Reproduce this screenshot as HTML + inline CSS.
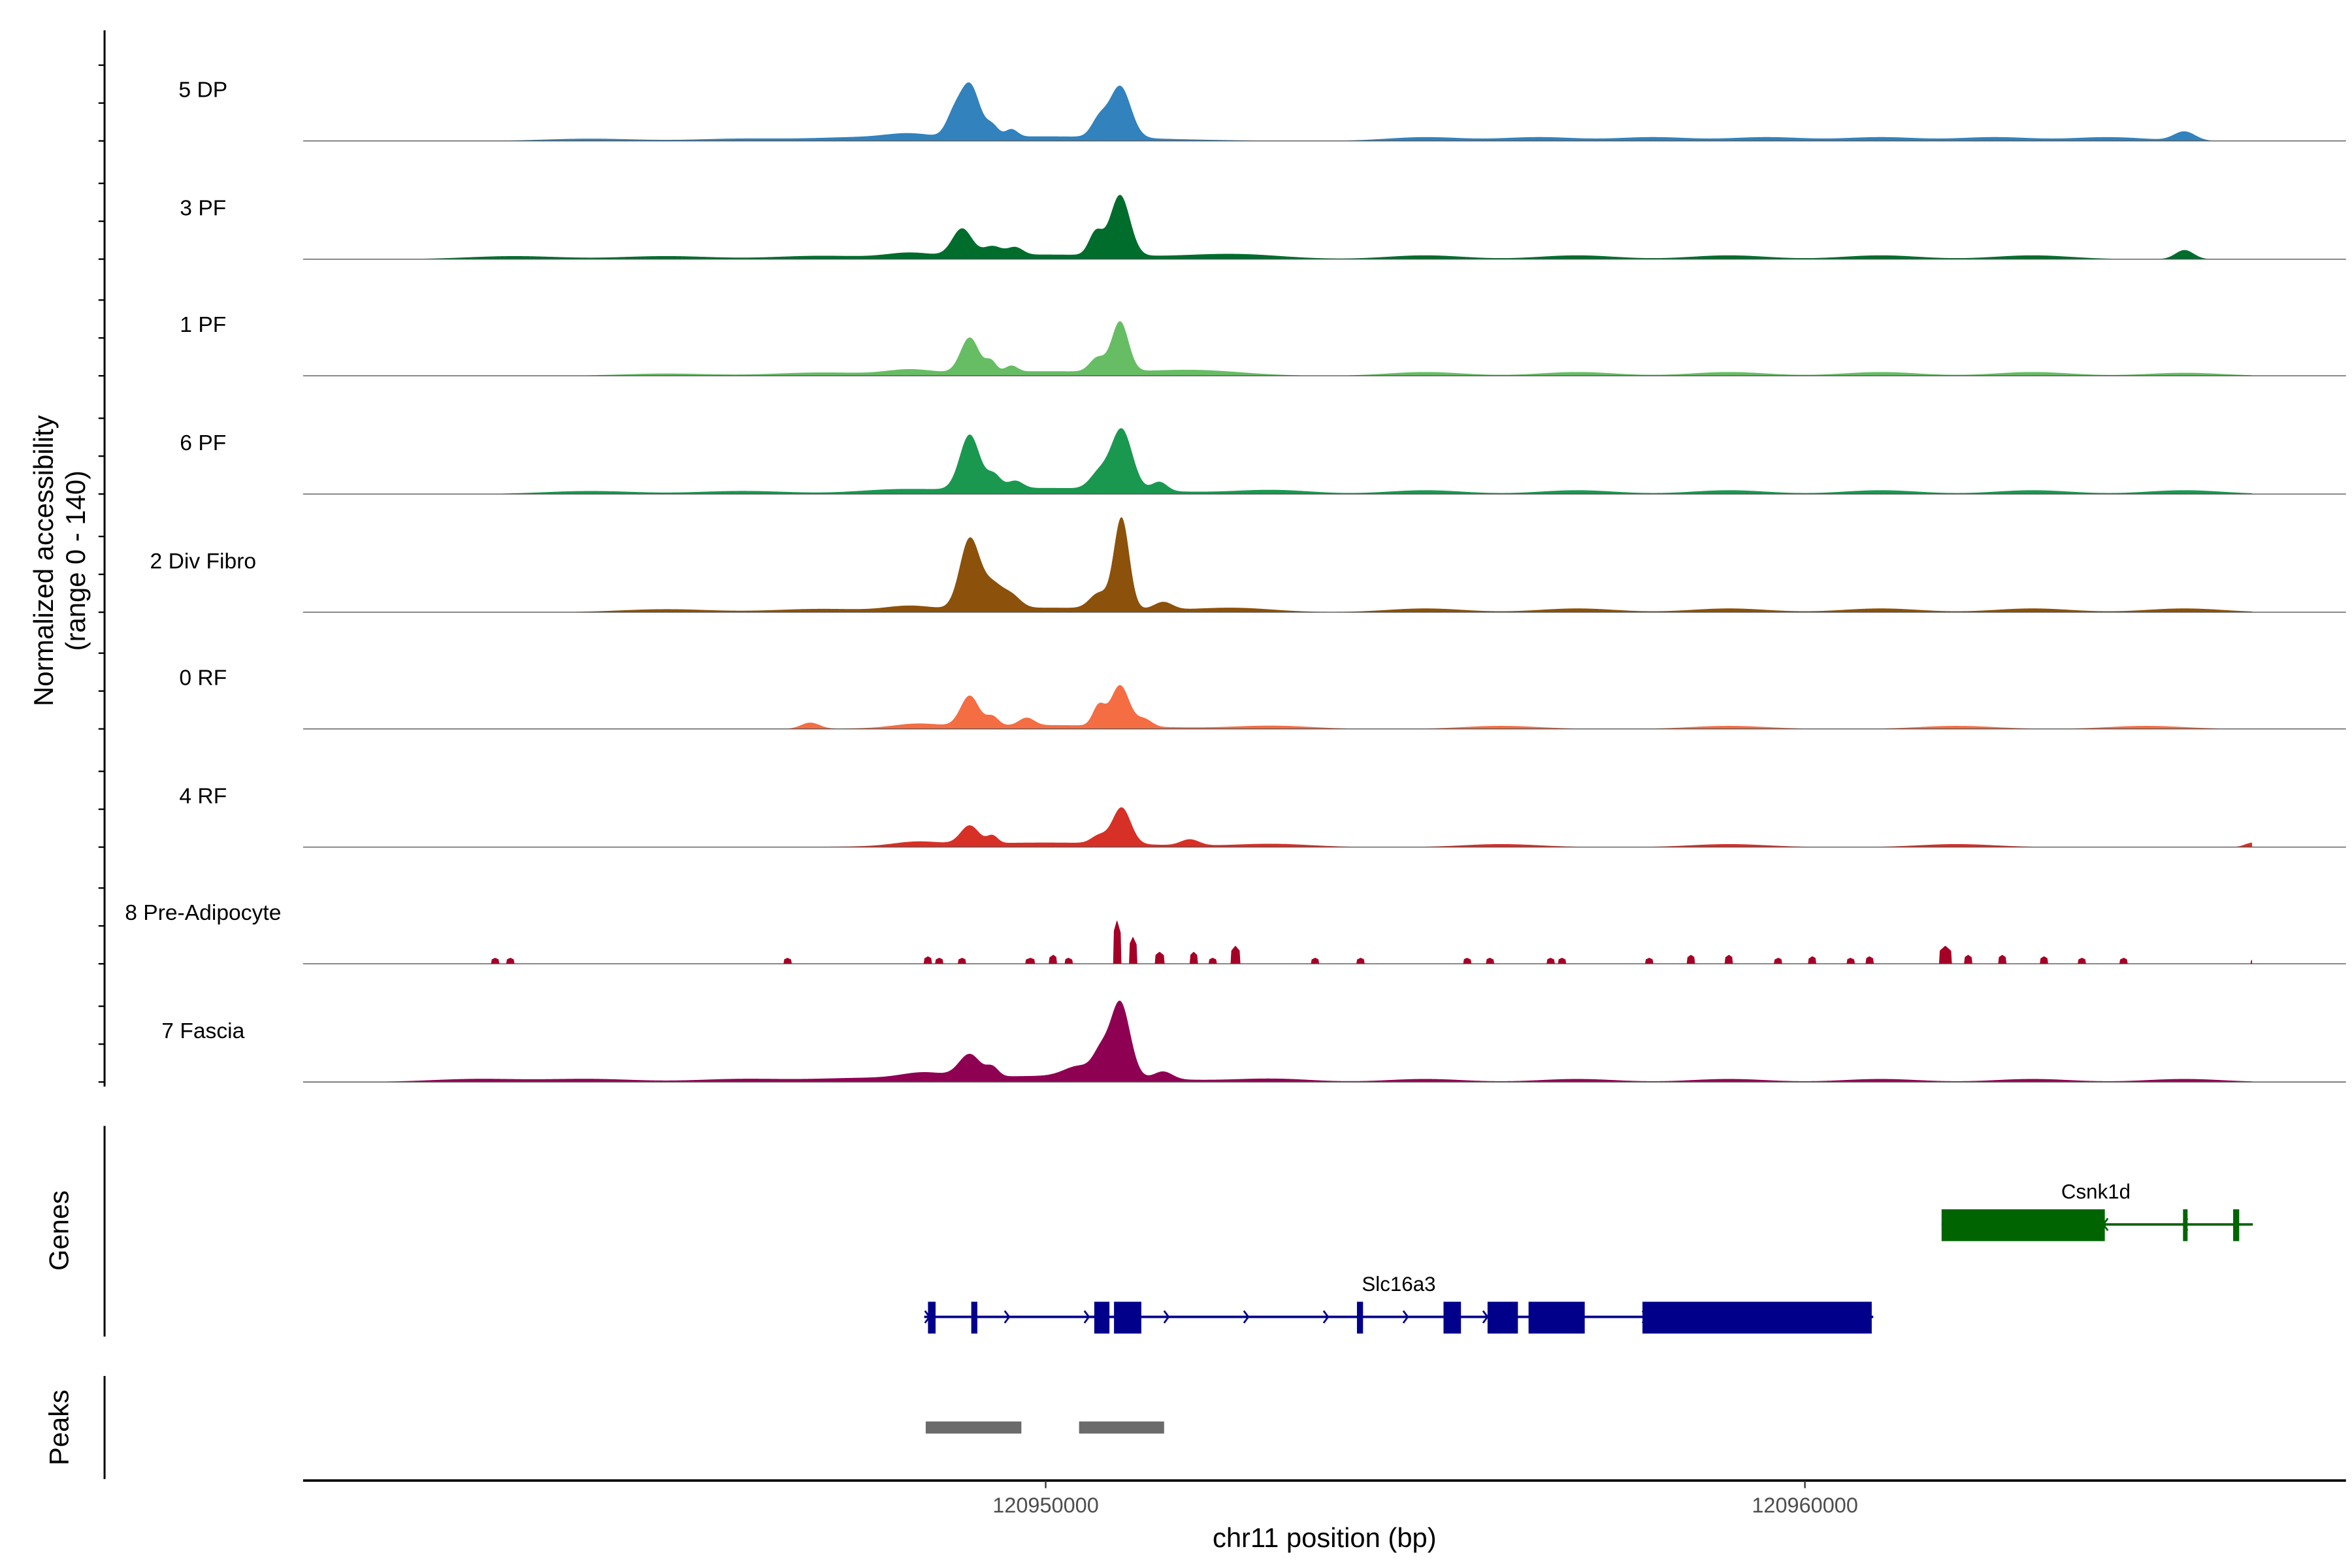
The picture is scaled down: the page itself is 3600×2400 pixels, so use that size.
<!DOCTYPE html>
<html><head><meta charset="utf-8">
<style>
html,body{margin:0;padding:0;background:#fff;}
svg{display:block;}
text{font-family:"Liberation Sans",sans-serif;}
</style></head>
<body>
<svg id="chart" width="3600" height="2400" viewBox="0 0 1552 1034.7" preserveAspectRatio="none" xmlns="http://www.w3.org/2000/svg">
<g id="tracks"></g>
<g id="axes"></g>
<g id="genes"></g>
<g id="peaks"></g>
</svg>
<script>
// positions in kb offset from 120,940,000 bp; heights in normalized accessibility (0-140)
const trackNames = ["5 DP","3 PF","1 PF","6 PF","2 Div Fibro","0 RF","4 RF","8 Pre-Adipocyte","7 Fascia"];
const trackColors = ["#3182bd","#006d2c","#66bd63","#1a9850","#8c510a","#f46d43","#d73027","#a50026","#8e0152"];
const peakPos = [
 [9.0,8.78,9.3,9.55,10.98,10.7,10.0,25.0,15,16.5,18,19.5,21,22.5,24,4,6,7.5,8.2],
 [8.9,9.3,9.6,10.98,10.66,10.0,25.0,12.5,15,17,19,21,23,3,5,7,8.2],
 [9.0,9.28,9.55,10.98,10.68,10.0,12,15,17,19,21,23,25,5,7,8.2],
 [9.0,9.32,9.6,11.0,10.7,11.5,10.0,4,6,8,13,15,17,19,21,23,25],
 [9.0,9.3,9.55,11.0,10.7,11.55,10.0,5,7,8.2,12.5,15,17,19,21,23,25],
 [9.0,9.3,9.75,10.98,10.7,11.3,6.9,10.0,8.3,13,16,19,22,24.5],
 [9.0,9.3,11.0,10.7,11.9,10.0,8.3,13,16,19,22,25.9],
 [10.94,11.15,12.5,11.5,2.75,2.95,6.6,8.45,8.6,8.9,9.8,10.1,10.3,11.95,12.2,13.55,14.15,15.55,15.85,16.65,16.8,17.95,18.5,19.0,19.65,20.1,20.6,20.85,21.85,22.15,22.6,23.15,23.65,24.2,25.9],
 [9.0,9.3,10.98,10.72,10.45,11.55,10.0,8.4,2.5,4,6,7.5,13,15,17,19,21,23,25]
];
const peakHeight = [
 [70,24,14,10,68,22,6,12,5,5,5,5,5,5,5,3,3,4,6],
 [36,12,10,80,30,6,12,6,5,5,5,5,5,4,4,4,6],
 [46,14,8,66,18,6,6,5,5,5,5,5,4,3,4,6],
 [72,18,10,80,20,12,8,4,4,4,5,5,5,5,5,5,5],
 [92,30,16,120,20,10,6,4,4,6,5,5,5,5,5,5,5],
 [40,12,10,54,26,10,8,5,5,4,4,4,4,4],
 [24,10,48,10,8,6,5,4,4,4,4,6],
 [58,36,24,16,8,8,8,10,8,8,8,12,8,16,8,8,8,8,8,8,8,8,12,12,8,10,8,10,24,12,12,10,8,8,6],
 [30,12,100,26,14,10,8,8,4,4,4,4,4,4,4,4,4,4,4]
];
const peakWidth = [
 [0.13,0.1,0.08,0.08,0.14,0.1,1.3,0.14,0.5,0.5,0.5,0.5,0.5,0.5,0.5,0.6,0.6,0.6,0.3],
 [0.13,0.12,0.1,0.13,0.09,1.3,0.12,0.6,0.5,0.5,0.5,0.5,0.5,0.6,0.6,0.6,0.3],
 [0.12,0.07,0.08,0.11,0.1,1.3,0.6,0.5,0.5,0.5,0.5,0.5,0.5,0.6,0.6,0.3],
 [0.13,0.09,0.1,0.14,0.12,0.1,1.3,0.6,0.6,0.5,0.5,0.5,0.5,0.5,0.5,0.5,0.5],
 [0.13,0.13,0.12,0.1,0.12,0.12,1.3,0.6,0.6,0.3,0.5,0.5,0.5,0.5,0.5,0.5,0.5],
 [0.12,0.08,0.1,0.12,0.08,0.1,0.12,1.3,0.3,0.5,0.5,0.5,0.5,0.5],
 [0.12,0.07,0.12,0.1,0.12,1.3,0.3,0.5,0.5,0.5,0.5,0.1],
 [0.05,0.05,0.06,0.06,0.05,0.05,0.05,0.05,0.05,0.05,0.06,0.05,0.05,0.05,0.05,0.05,0.05,0.05,0.05,0.05,0.05,0.05,0.05,0.05,0.05,0.05,0.05,0.05,0.08,0.05,0.05,0.05,0.05,0.05,0.03],
 [0.14,0.08,0.13,0.1,0.2,0.12,1.3,0.3,0.6,0.6,0.6,0.6,0.5,0.5,0.5,0.5,0.5,0.5,0.5]
];
const xTicks = [120950000, 120960000];
const xTickLabels = ["120950000","120960000"];
const dataStartKb = 0.22, dataEndKb = 25.89;
const slcExons = [[8.45,8.55],[9.02,9.1],[10.64,10.84],[10.9,11.26],[14.1,14.18],[15.24,15.47],[15.82,16.22],[16.36,17.1],[17.86,20.88]];
const slcRange = [8.4, 20.9];
const csnkExons = [[21.8,23.95],[24.98,25.04],[25.64,25.72]];
const csnkRange = [21.8, 25.9];
const peakRegions = [[8.42,9.68],[10.44,11.56]];

const NS = "http://www.w3.org/2000/svg";
function X(kb){ return 690 + (kb - 10) * 50.1; }
function Y(base, v){ return base - v * 0.5; }
function el(tag, attrs, parent, txt){
  const e = document.createElementNS(NS, tag);
  for (const k in attrs) e.setAttribute(k, attrs[k]);
  if (txt !== undefined) e.textContent = txt;
  parent.appendChild(e); return e;
}
const tracks = document.getElementById('tracks');
const axes = document.getElementById('axes');
const baselines = [93,171,248,326,404,481,559,636,714];
for (let t = 0; t < trackNames.length; t++){
  const base = baselines[t];
  const blocky = t === 7;
  let d = "M" + X(dataStartKb) + " " + base;
  for (let px = X(dataStartKb); px <= X(dataEndKb); px += 0.5){
    const kb = 10 + (px - 690) / 50.1;
    let v = 0;
    for (let i = 0; i < peakPos[t].length; i++){
      const z = (kb - peakPos[t][i]) / peakWidth[t][i];
      if (blocky) { if (Math.abs(z) < 1) v += peakHeight[t][i] * (1 - 0.3*Math.abs(z)); }
      else v += peakHeight[t][i] * Math.exp(-0.5 * z * z);
    }
    d += " L" + px.toFixed(1) + " " + Y(base, Math.min(v,140)).toFixed(2);
  }
  d += " L" + X(dataEndKb) + " " + base + " Z";
  const p = el('path', {d: d, fill: trackColors[t]}, tracks);
  
  
  const bl = el('line', {x1: 200, x2: 1548, y1: base, y2: base, stroke: '#555', 'stroke-width': 0.6}, tracks);
  
  
  const lab = el('text', {x: 134, y: base - 29, 'font-size': 14.5, 'text-anchor': 'middle', fill: '#000'}, tracks, trackNames[t]);
  
  
  for (let k = 0; k < 3; k++){
    const tk = el('line', {x1: 65, x2: 69, y1: base - k*25, y2: base - k*25, stroke: '#000', 'stroke-width': 1}, axes);
    
    
  }
}
let a = el('line', {x1: 69, x2: 69, y1: 20, y2: 717, stroke: '#000', 'stroke-width': 1.3}, axes);
 
a = el('line', {x1: 69, x2: 69, y1: 743, y2: 882, stroke: '#000', 'stroke-width': 1.3}, axes);
 
a = el('line', {x1: 69, x2: 69, y1: 908, y2: 976, stroke: '#000', 'stroke-width': 1.3}, axes);
 
a = el('line', {x1: 200, x2: 1548, y1: 977, y2: 977, stroke: '#000', 'stroke-width': 1.6}, axes);
 
for (let i = 0; i < xTicks.length; i++){
  const x = X((xTicks[i] - 120940000) / 1000);
  const tk = el('line', {x1: x, x2: x, y1: 977, y2: 982, stroke: '#333', 'stroke-width': 1}, axes);
   
  const tl = el('text', {x: x, y: 998, 'font-size': 14, 'text-anchor': 'middle', fill: '#4d4d4d'}, axes, xTickLabels[i]);
   
}
a = el('text', {x: 874, y: 1021, 'font-size': 18, 'text-anchor': 'middle', fill: '#000'}, axes, 'chr11 position (bp)');
 
a = el('text', {x: 0, y: 0, 'font-size': 18, 'text-anchor': 'middle', fill: '#000', transform: 'translate(35,370) rotate(-90)'}, axes, 'Normalized accessibility');
 
a = el('text', {x: 0, y: 0, 'font-size': 18, 'text-anchor': 'middle', fill: '#000', transform: 'translate(56,370) rotate(-90)'}, axes, '(range 0 - 140)');
 
a = el('text', {x: 0, y: 0, 'font-size': 18, 'text-anchor': 'middle', fill: '#000', transform: 'translate(45,812) rotate(-90)'}, axes, 'Genes');
 
a = el('text', {x: 0, y: 0, 'font-size': 18, 'text-anchor': 'middle', fill: '#000', transform: 'translate(45,942) rotate(-90)'}, axes, 'Peaks');
 

const genes = document.getElementById('genes');
function gene(name, range, exons, y, color, dir, lx, ly){
  const g = el('g', {}, genes);
  
  
  el('line', {x1: X(range[0]), x2: X(range[1]), y1: y, y2: y, stroke: color, 'stroke-width': 1.6}, g);
  for (const e of exons){
    const x0 = X(e[0]), w = Math.max(X(e[1]) - x0, 2.2);
    el('rect', {x: x0, y: y - 10, width: w, height: 21, fill: color}, g);
  }
  for (let kb = range[0] + 0.05; kb < range[1]; kb += 1.05){
    const x = X(kb);
    el('path', {d: dir > 0 ? `M${x-2} ${y-4} L${x+1} ${y} L${x-2} ${y+4}` : `M${x+2} ${y-4} L${x-1} ${y} L${x+2} ${y+4}`, fill: 'none', stroke: color, 'stroke-width': 1.2}, g);
  }
  const t = el('text', {x: lx, y: ly, 'font-size': 13.5, 'text-anchor': 'middle', fill: '#000'}, g, name);
  
  
}
gene('Slc16a3', slcRange, slcExons, 869, '#00008b', 1, 923, 852);
gene('Csnk1d', csnkRange, csnkExons, 808, '#006400', -1, 1383, 791);

const peaks = document.getElementById('peaks');
for (const r of peakRegions){
  const pr = el('rect', {x: X(r[0]), y: 938, width: X(r[1]) - X(r[0]), height: 8, fill: '#6b6b6b'}, peaks);
  
  
}
</script>
</body></html>
